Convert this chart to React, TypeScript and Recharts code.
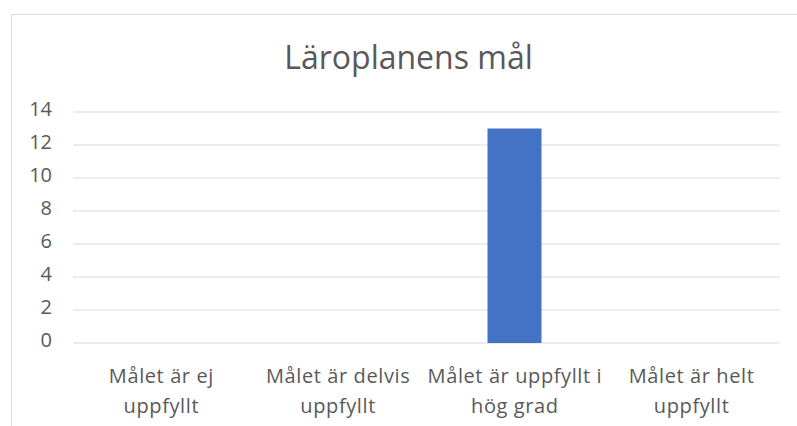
import { Bar, BarChart, CartesianGrid, XAxis, YAxis } from "recharts";

const categories = [
  "Målet är ej\nuppfyllt",
  "Målet är delvis\nuppfyllt",
  "Målet är uppfyllt i\nhög grad",
  "Målet är helt\nuppfyllt",
];
const counts = [0, 0, 13, 0];
const yTicks = [0, 2, 4, 6, 8, 10, 12, 14];

const data = categories.map((name, i) => ({ name, value: counts[i] }));

const FONT = "'Open Sans', Lato, sans-serif";
const GREY = "#595959";

function CategoryTick({ x, y, payload }: any) {
  const lines = String(payload.value).split("\n");
  return (
    <text x={x} y={y} textAnchor="middle" fill={GREY} fontSize={20} letterSpacing={0.6} fontFamily={FONT}>
      {lines.map((line, i) => (
        <tspan key={i} x={x} dy={i === 0 ? 38 : 30}>
          {line}
        </tspan>
      ))}
    </text>
  );
}

function ValueTick({ x, y, payload }: any) {
  return (
    <text x={x} y={y} dy={4} textAnchor="end" fill={GREY} fontSize={20} fontFamily={FONT}>
      {payload.value}
    </text>
  );
}

export default function App() {
  return (
    <div style={{ position: "fixed", left: 0, top: 0, width: 797, height: 426, background: "#fff", overflow: "hidden" }}>
      <div
        style={{
          position: "absolute",
          left: 11,
          top: 14,
          width: 800,
          height: 430,
          border: "1px solid #d9d9d9",
        }}
      />
      <div
        style={{
          position: "absolute",
          left: 0,
          width: 817,
          top: 36,
          textAlign: "center",
          fontFamily: FONT,
          fontSize: 32,
          color: GREY,
          lineHeight: "42px",
        }}
      >
        Läroplanens mål
      </div>
      <div style={{ position: "absolute", left: 0, top: 0 }}>
        <BarChart
          width={797}
          height={426}
          data={data}
          margin={{ top: 112, right: 17, bottom: 0, left: 0 }}
          barSize={54}
        >
          <CartesianGrid vertical={false} stroke="#d9d9d9" strokeWidth={1} />
          <XAxis
            dataKey="name"
            height={83}
            axisLine={false}
            tickLine={false}
            tickSize={0}
            interval={0}
            tick={<CategoryTick />}
          />
          <YAxis
            width={73}
            domain={[0, 14]}
            ticks={yTicks}
            axisLine={false}
            tickLine={false}
            tickSize={0}
            tickMargin={21}
            tick={<ValueTick />}
          />
          <Bar dataKey="value" fill="#4472C4" isAnimationActive={false} />
        </BarChart>
      </div>
    </div>
  );
}
